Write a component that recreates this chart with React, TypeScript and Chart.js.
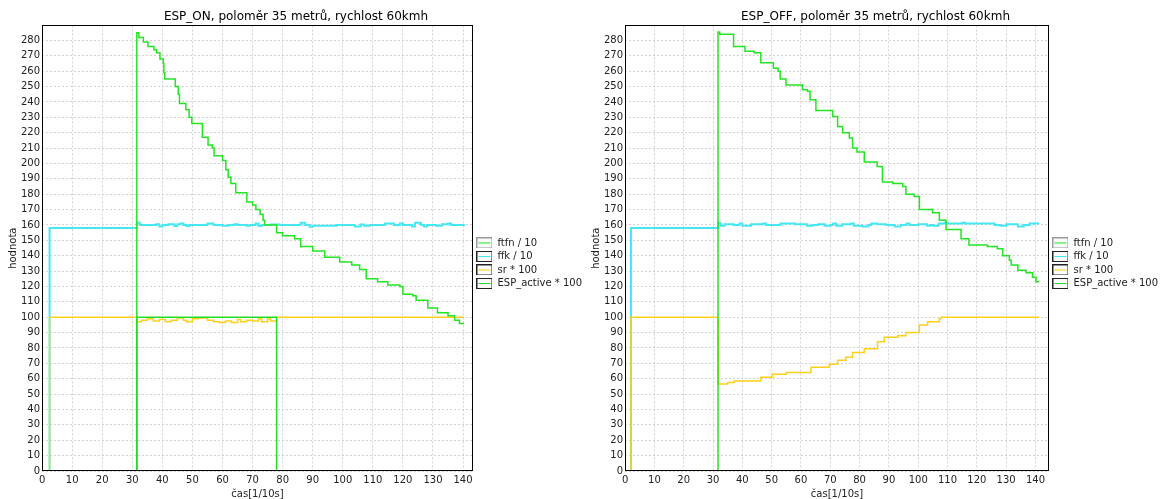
import React, { useEffect, useRef } from 'react';
import { Chart, registerables } from 'chart.js';

Chart.register(...registerables);

type P = [number, number];

// ---------- labels / ticks ----------
const SERIES_LABELS = ['ftfn / 10', 'ffk / 10', 'sr * 100', 'ESP_active * 100'];
const TITLE_ON = 'ESP_ON, poloměr 35 metrů, rychlost 60kmh';
const TITLE_OFF = 'ESP_OFF, poloměr 35 metrů, rychlost 60kmh';
const X_TITLE = 'čas[1/10s]';
const Y_TITLE = 'hodnota';
const TICK_STEP = 10;

// ---------- ESP_ON data (time, value) change points ----------
const ftfnOn: P[] = [
  [0, 0], [31.5, 285], [32.2, 282], [33.7, 279], [35.2, 276], [37.2, 274], [38.1, 272],
  [39.2, 268], [40.3, 265], [40.5, 259], [40.8, 255], [44.3, 250], [45.3, 245], [45.7, 239],
  [47.8, 235], [48.9, 230], [49.8, 226], [53.3, 217], [55.2, 212], [56.6, 210], [57.2, 205],
  [60, 202], [61.1, 196], [61.9, 191], [62.8, 187], [64.4, 181], [68.1, 175], [70, 173],
  [71.1, 170], [72.5, 167], [73.5, 163], [74, 160], [78, 155], [80, 153], [84, 151],
  [86, 146], [90, 143], [94, 139], [99, 136], [103, 134], [105.6, 131], [107.8, 125],
  [111.6, 123], [115, 121], [119, 120], [120, 115], [123.3, 114], [124.4, 111], [128.3, 106],
  [131.5, 103], [135, 101], [137.2, 98], [138.8, 96], [140.3, 96],
];
const ffkOn: P[] = [
  [0, 0], [2.5, 158], [31.5, 161.5], [32.5, 160], [38, 160.5], [39, 159], [40, 160],
  [42, 160.5], [44, 159.3], [45, 160.5], [46, 161], [47, 160], [48, 159.3], [49, 160],
  [55, 161], [57, 160], [60, 159.5], [62, 160], [64, 160.5], [65, 160], [68, 159.5],
  [69, 160], [71, 161], [72, 159.3], [73, 160], [76, 160.3], [79, 160], [86, 161.5],
  [87.5, 160], [89, 158.8], [90, 159.5], [98, 160], [104, 159], [106, 160.3], [107, 159.5],
  [109, 160], [114, 161], [117, 160], [119, 161], [120, 160], [123, 159], [124, 161.5],
  [126, 160], [127, 159], [128, 160], [131, 159.5], [133, 160.5], [135, 161], [136, 160],
  [140.3, 160.5],
];
const srOn: P[] = [
  [0, 0], [2.5, 100], [31.5, 97], [33, 98], [35, 99], [37, 97.5], [39, 98.5], [41, 97],
  [43, 98], [45, 99.5], [47, 98], [48, 97], [50, 99], [52, 99.5], [55, 98], [57, 97],
  [59, 96.5], [61, 97.5], [63, 96.5], [65, 98.5], [66, 97], [68, 98], [70, 97.5], [72, 99],
  [73, 97], [75, 99], [76, 97.5], [78, 100], [140.3, 100],
];
const espOn: P[] = [[0, 0], [31.5, 100], [78, 0], [140.3, 0]];

// ---------- ESP_OFF data ----------
const ftfnOff: P[] = [
  [0, 0], [31.7, 285.5], [32.3, 284], [37, 276], [40.9, 273], [44, 272], [46.3, 265.5],
  [50.6, 262], [52.2, 260], [52.9, 255], [54.9, 251], [60.5, 248], [62.2, 247], [63.1, 241.5],
  [65.1, 234.5], [70.8, 230.5], [72.5, 224], [74.2, 220], [76.5, 216.5], [77.6, 210],
  [79.1, 207.5], [81.6, 201], [86, 198], [87.8, 188], [91.3, 187], [94.7, 185], [95.8, 180],
  [98.6, 178.5], [100.4, 170], [104.9, 168], [107.2, 163], [109.5, 157], [114.6, 151],
  [117.3, 147], [123.6, 146], [127, 144.5], [128.8, 140], [131.1, 137], [131.7, 134],
  [134, 130.5], [136.8, 129], [139, 126], [140.2, 123], [141.3, 123],
];
const ffkOff: P[] = [
  [0, 0], [2, 158], [31.7, 161.5], [32.5, 159.5], [34, 160.5], [37, 160], [39, 161],
  [40, 159.5], [43, 160.5], [47, 161], [48, 160], [53, 161], [58, 160.5], [62, 159.5],
  [64, 160], [66, 160.5], [68, 159.5], [70, 160], [71, 161], [72, 159.5], [74, 160.5],
  [77, 161], [78, 159.5], [81, 159], [83, 160], [84, 161], [86, 160.5], [89, 160], [92, 159],
  [94, 160], [96, 161], [97, 160], [100, 160.5], [103, 159.5], [104, 160], [105, 159.5],
  [107, 161], [109, 161.5], [110, 161], [115, 161.5], [116, 161], [126, 160], [128, 159.5],
  [130, 160.5], [134, 159], [136, 160], [138, 161], [141.3, 161],
];
const srOff: P[] = [
  [0, 0], [2, 100], [31.7, 56.5], [35, 57.5], [37.2, 58.5], [46.3, 61], [50.3, 63],
  [54.9, 64], [63.4, 67.5], [69.6, 69.5], [72.5, 72], [75.3, 74], [77.6, 77], [81.6, 79.5],
  [86.1, 84], [88.4, 87], [93, 88], [95.8, 90], [100.4, 95], [103.2, 97], [107.2, 99],
  [107.8, 100], [141.3, 100],
];
const espOff: P[] = [[0, 0], [141.3, 0]];

// ---------- styles ----------
const COLORS = ['#22e622', '#45e8f2', '#ffcf1a', '#22dd22'];
const ICON_BORDERS = ['#9a9a9a', '#222222', '#222222', '#222222'];
const WIDTHS = [1.5, 2, 1.5, 1.5];
const ORDERS = [1, 3, 2, 0];
const FONT = 'DejaVu Sans, Verdana, sans-serif';

function legendIcon(color: string, border: string) {
  const c = document.createElement('canvas');
  c.width = 16;
  c.height = 11;
  const g = c.getContext('2d')!;
  g.fillStyle = '#fafafa';
  g.fillRect(0, 0, 16, 11);
  g.strokeStyle = border;
  g.lineWidth = 1;
  g.strokeRect(0.5, 0.5, 15, 10);
  g.strokeStyle = color;
  g.beginPath();
  g.moveTo(2, 5.5);
  g.lineTo(14, 5.5);
  g.stroke();
  return c;
}

const framePlugin = {
  id: 'frame',
  afterDatasetsDraw(chart: any) {
    const { ctx, chartArea: a } = chart;
    ctx.save();
    ctx.strokeStyle = '#000';
    ctx.lineWidth = 1;
    const l = Math.round(a.left) + 0.5;
    const t = Math.round(a.top) + 0.5;
    const r = Math.round(a.right) - 0.5;
    const b = Math.round(a.bottom) - 0.5;
    ctx.strokeRect(l, t, r - l, b - t);
    ctx.restore();
  },
};

interface PanelProps {
  title: string;
  series: P[][];
  xMax: number;
  left: number;
  width: number;
}

function Panel({ title, series, xMax, left, width }: PanelProps) {
  const ref = useRef<HTMLCanvasElement | null>(null);
  useEffect(() => {
    if (!ref.current) return;
    const icons = series.map((_, i) => legendIcon(COLORS[i], ICON_BORDERS[i]));
    const tickFont = { family: FONT, size: 10 };
    const chart = new Chart(ref.current, {
      type: 'line',
      data: {
        datasets: series.map((pts, i) => ({
          label: SERIES_LABELS[i],
          data: pts.map(([x, y]) => ({ x, y })),
          borderColor: COLORS[i],
          backgroundColor: COLORS[i],
          borderWidth: WIDTHS[i],
          pointRadius: 0,
          stepped: 'before',
          fill: false,
          order: ORDERS[i],
        })),
      },
      options: {
        responsive: false,
        maintainAspectRatio: false,
        animation: false,
        events: [],
        layout: { padding: 0 },
        plugins: {
          title: {
            display: true,
            text: title,
            color: '#000',
            font: { family: FONT, size: 12, weight: 'normal' },
            padding: { top: 10, bottom: 1 },
          },
          legend: {
            position: 'right',
            title: {
              display: true,
              text: '',
              font: { family: FONT, size: 10, lineHeight: 1.2 },
              padding: { top: 15.4, bottom: 0 },
            },
            labels: {
              usePointStyle: true,
              pointStyleWidth: 16,
              padding: 3.5,
              color: '#222',
              font: tickFont,
              generateLabels: (ch: any) =>
                ch.data.datasets.map((ds: any, i: number) => ({
                  text: ds.label,
                  pointStyle: icons[i],
                  datasetIndex: i,
                  hidden: false,
                  lineWidth: 0,
                  fillStyle: 'rgba(0,0,0,0)',
                  strokeStyle: 'rgba(0,0,0,0)',
                  fontColor: '#222',
                })),
            },
          },
          tooltip: { enabled: false },
        },
        scales: {
          x: {
            type: 'linear',
            min: 0,
            max: xMax,
            ticks: {
              stepSize: TICK_STEP,
              includeBounds: false,
              autoSkip: false,
              maxRotation: 0,
              padding: 3,
              color: '#222',
              font: tickFont,
            },
            grid: { color: '#d2d2d2', drawTicks: false, lineWidth: 1 },
            border: { display: false, dash: [2, 2] },
            title: {
              display: true,
              text: X_TITLE,
              color: '#222',
              font: { family: FONT, size: 10, lineHeight: 1 },
              padding: { top: 0, bottom: 0 },
            },
          },
          y: {
            type: 'linear',
            min: 0,
            max: 289.8,
            ticks: {
              stepSize: TICK_STEP,
              includeBounds: false,
              autoSkip: false,
              padding: 2,
              color: '#222',
              font: tickFont,
            },
            grid: { color: '#d2d2d2', drawTicks: false, lineWidth: 1 },
            border: { display: false, dash: [2, 2] },
            title: {
              display: true,
              text: Y_TITLE,
              color: '#222',
              font: tickFont,
              padding: { top: 7, bottom: 0 },
            },
          },
        },
      } as any,
      plugins: [framePlugin],
    });
    return () => chart.destroy();
  }, []);
  return (
    <canvas
      ref={ref}
      width={width}
      height={499}
      style={{ position: 'absolute', left, top: 0, width, height: 499 }}
    />
  );
}

export default function App() {
  return (
    <div style={{ position: 'absolute', left: 0, top: 0, width: 1169, height: 499, background: '#fff', overflow: 'hidden' }}>
      <Panel title={TITLE_ON} series={[ftfnOn, ffkOn, srOn, espOn]} xMax={143.3} left={0} width={592} />
      <Panel title={TITLE_OFF} series={[ftfnOff, ffkOff, srOff, espOff]} xMax={144.6} left={583} width={585} />
    </div>
  );
}
